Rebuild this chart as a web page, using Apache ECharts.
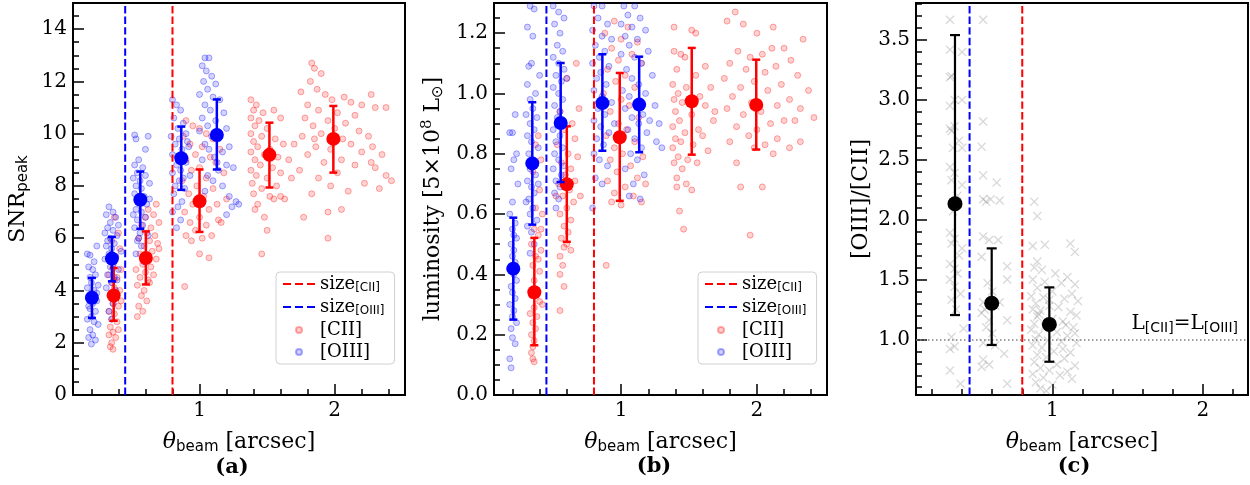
<!DOCTYPE html>
<html><head><meta charset="utf-8">
<script src="https://cdn.jsdelivr.net/npm/echarts@6/dist/echarts.min.js"></script>
<style>html,body{margin:0;padding:0;background:#fff}#c{width:1250px;height:485px}</style>
</head><body><div id="c"></div>
<script>
// ---------------- DATA ----------------
const sizeCII = 0.8, sizeOIII = 0.45, unityRatio = 1.0;
const xMajorTicks = [1, 2];
const xMinorTicks = [0.2,0.4,0.6,0.8,1.2,1.4,1.6,1.8,2.2,2.4];
const yMajorA = [0,2,4,6,8,10,12,14];
const yMajorB = [0,0.2,0.4,0.6,0.8,1.0,1.2];
const yMajorC = [1.0,1.5,2.0,2.5,3.0,3.5];

// panel (a): SNR_peak
const snrOIII = [
[0.17,5.4],[0.19,5.35],[0.24,5.7],[0.22,5.1],[0.18,4.9],[0.21,4.8],[0.23,4.6],[0.19,4.5],[0.2,4.3],[0.25,4.2],[0.17,4.1],[0.22,4.0],[0.2,3.9],[0.18,3.7],[0.24,3.6],[0.21,3.5],[0.19,3.3],[0.23,3.2],[0.2,3.0],[0.17,2.9],[0.22,2.8],[0.25,2.7],[0.19,2.5],[0.21,2.3],[0.18,2.2],[0.23,2.1],[0.2,1.95],[0.24,3.9],[0.18,3.4],
[0.33,7.2],[0.36,7.0],[0.31,6.9],[0.38,6.8],[0.34,6.6],[0.4,6.5],[0.32,6.4],[0.36,6.3],[0.3,6.2],[0.39,6.1],[0.34,6.0],[0.37,5.8],[0.31,5.7],[0.35,5.6],[0.42,5.5],[0.33,5.4],[0.38,5.3],[0.3,5.2],[0.36,5.0],[0.34,4.9],[0.4,4.8],[0.32,4.6],[0.37,4.5],[0.35,4.3],[0.31,4.1],[0.38,4.0],[0.34,3.8],[0.36,3.5],[0.33,3.2],[0.35,2.9],[0.32,5.9],[0.39,4.4],
[0.52,9.95],[0.62,9.9],[0.53,9.8],[0.6,9.4],[0.55,9.0],[0.52,8.8],[0.58,8.7],[0.54,8.5],[0.6,8.4],[0.51,8.3],[0.56,8.2],[0.63,8.1],[0.53,8.0],[0.57,7.9],[0.52,7.7],[0.59,7.6],[0.55,7.4],[0.61,7.3],[0.53,7.1],[0.57,7.0],[0.51,6.9],[0.6,6.8],[0.54,6.7],[0.58,6.5],[0.52,6.4],[0.56,6.2],[0.62,6.1],[0.54,5.9],[0.57,5.7],[0.53,5.4],[0.59,5.1],[0.55,6.0],[0.63,7.5],
[0.8,11.3],[0.83,11.1],[0.86,10.9],[0.81,10.6],[0.88,10.4],[0.84,10.2],[0.9,10.0],[0.79,9.9],[0.85,9.8],[0.82,9.6],[0.92,9.5],[0.87,9.4],[0.8,9.2],[0.84,9.1],[0.9,8.9],[0.83,8.8],[0.86,8.6],[0.8,8.5],[0.93,8.4],[0.85,8.2],[0.82,8.0],[0.89,7.9],[0.81,7.7],[0.87,7.4],[0.84,7.2],[0.8,7.0],[0.86,6.7],[0.83,6.4],[0.91,9.7],[0.88,8.3],
[1.04,12.9],[1.07,12.9],[1.02,12.6],[1.05,12.4],[1.09,12.2],[1.03,12.0],[1.12,11.9],[1.06,11.7],[1.0,11.5],[1.1,11.4],[1.15,11.3],[1.04,11.1],[1.08,10.9],[1.18,10.8],[1.02,10.6],[1.12,10.5],[1.06,10.3],[1.2,10.2],[1.0,10.1],[1.09,9.9],[1.14,9.8],[1.04,9.6],[1.22,9.5],[1.07,9.4],[1.17,9.3],[1.11,9.1],[1.02,9.0],[1.2,8.8],[1.14,8.6],[1.06,8.4],[1.25,8.7],[1.1,8.2],[1.17,8.0],[1.04,7.8],[1.22,7.6],[1.27,7.4],[1.24,7.2],[1.29,7.3],[1.2,6.9],[1.13,8.9]
];
const snrCII = [
[0.37,6.8],[0.4,6.2],[0.35,5.9],[0.41,5.6],[0.38,5.3],[0.36,5.0],[0.42,4.8],[0.33,4.6],[0.39,4.5],[0.35,4.3],[0.37,4.1],[0.41,4.0],[0.34,3.8],[0.38,3.7],[0.36,3.5],[0.4,3.4],[0.33,3.2],[0.37,3.1],[0.35,2.9],[0.39,2.8],[0.34,2.6],[0.36,2.4],[0.33,2.3],[0.38,2.2],[0.35,2.0],[0.34,1.85],[0.36,1.75],[0.42,3.6],[0.4,2.5],[0.37,4.4],
[0.68,7.3],[0.62,7.1],[0.66,6.9],[0.6,6.8],[0.7,6.6],[0.57,6.5],[0.64,6.4],[0.61,6.2],[0.67,6.1],[0.55,6.0],[0.63,5.9],[0.69,5.8],[0.59,5.7],[0.65,5.5],[0.56,5.4],[0.62,5.3],[0.68,5.2],[0.58,5.0],[0.64,4.9],[0.53,4.8],[0.6,4.7],[0.66,4.6],[0.56,4.5],[0.62,4.4],[0.54,4.2],[0.59,4.0],[0.57,3.8],[0.61,3.6],[0.55,3.4],[0.58,3.2],[0.54,3.0],[0.63,4.3],[0.7,5.6],
[0.9,10.5],[0.95,10.3],[1.0,10.2],[1.05,10.0],[0.88,9.9],[1.1,9.8],[0.93,9.6],[1.02,9.5],[1.15,9.4],[0.97,9.2],[1.08,9.1],[0.9,9.0],[1.12,8.9],[1.0,8.7],[0.94,8.6],[1.18,8.5],[1.05,8.3],[0.87,8.2],[0.98,8.0],[1.1,7.9],[0.92,7.7],[1.03,7.6],[1.2,7.5],[0.95,7.3],[1.07,7.1],[0.89,7.0],[1.0,6.8],[1.14,6.7],[0.93,6.6],[1.05,6.5],[0.97,6.3],[0.9,6.1],[1.09,6.1],[1.02,6.0],[0.94,5.9],[1.16,6.6],[1.0,5.4],[1.07,5.25],[0.89,4.15],[1.13,7.3],
[1.38,11.3],[1.42,11.1],[1.4,10.9],[1.47,10.8],[1.55,10.9],[1.38,10.6],[1.44,10.5],[1.6,10.6],[1.41,10.3],[1.5,10.2],[1.38,10.0],[1.46,9.9],[1.56,9.8],[1.4,9.7],[1.62,9.6],[1.43,9.5],[1.52,9.4],[1.38,9.3],[1.48,9.2],[1.58,9.1],[1.41,9.0],[1.66,9.0],[1.45,8.8],[1.54,8.7],[1.38,8.6],[1.6,8.5],[1.42,8.4],[1.5,8.3],[1.39,8.1],[1.57,8.0],[1.46,7.9],[1.4,7.7],[1.52,7.6],[1.63,7.5],[1.43,7.3],[1.55,7.5],[1.41,7.1],[1.48,6.8],[1.5,6.3],[1.46,5.4],[1.7,9.6],[1.68,8.3],[1.6,7.6],
[1.83,12.7],[1.85,12.5],[1.9,12.3],[1.82,12.0],[1.87,11.7],[1.75,11.6],[1.93,11.5],[2.07,11.4],[1.98,11.3],[2.12,11.2],[1.8,11.1],[2.2,11.1],[2.27,11.5],[1.88,10.9],[2.02,10.8],[2.15,10.7],[1.78,10.6],[1.95,10.5],[2.08,10.4],[2.3,11.0],[2.38,11.0],[1.84,10.3],[2.0,10.2],[2.18,10.1],[1.9,10.0],[2.25,9.9],[1.76,9.9],[2.06,9.8],[2.12,9.6],[1.86,9.5],[1.97,9.4],[2.28,9.5],[2.2,9.3],[1.8,9.2],[2.35,9.2],[2.05,9.0],[1.92,8.9],[2.15,8.8],[1.74,8.6],[2.42,8.2],[2.38,8.4],[2.3,8.7],[2.02,8.5],[1.88,8.3],[2.22,8.1],[1.97,8.0],[2.1,7.8],[2.33,7.9],[1.83,7.7],[1.95,7.0],[2.05,7.1],[1.77,6.8],[1.95,6.0],[2.27,8.9],[1.85,9.8]
];
// [x, mean, low, high]
const snrOIIIbars = [[0.204,3.72,2.95,4.48],[0.352,5.22,4.35,6.05],[0.562,7.47,6.36,8.55],[0.865,9.06,7.85,10.27],[1.128,9.95,8.63,11.31]];
const snrCIIbars  = [[0.365,3.81,2.84,4.86],[0.603,5.24,4.23,6.26],[1.0,7.41,6.24,8.63],[1.517,9.19,7.94,10.42],[1.99,9.80,8.51,11.06]];

// panel (b): luminosity
const lumOIII = [
[0.22,0.93],[0.2,0.87],[0.18,0.87],[0.23,0.8],[0.21,0.78],[0.19,0.75],[0.24,0.7],[0.2,0.64],[0.18,0.6],[0.22,0.57],[0.2,0.55],[0.23,0.52],[0.19,0.5],[0.21,0.48],[0.2,0.46],[0.22,0.44],[0.18,0.42],[0.21,0.4],[0.23,0.38],[0.19,0.36],[0.2,0.34],[0.22,0.32],[0.18,0.3],[0.21,0.28],[0.2,0.26],[0.23,0.24],[0.19,0.22],[0.2,0.19],[0.22,0.17],[0.18,0.12],[0.19,0.09],[0.21,0.53],[0.2,0.42],
[0.33,1.29],[0.36,1.28],[0.31,1.22],[0.35,1.19],[0.32,1.09],[0.34,1.1],[0.4,1.06],[0.31,1.03],[0.37,1.0],[0.33,0.98],[0.35,0.95],[0.3,0.93],[0.38,0.92],[0.33,0.9],[0.36,0.88],[0.31,0.86],[0.34,0.84],[0.39,0.82],[0.32,0.8],[0.35,0.78],[0.33,0.75],[0.37,0.73],[0.31,0.71],[0.34,0.69],[0.36,0.67],[0.32,0.65],[0.35,0.62],[0.33,0.6],[0.38,0.58],[0.31,0.56],[0.34,0.54],[0.36,0.5],[0.33,0.47],[0.3,0.64],[0.39,0.7],
[0.5,1.29],[0.54,1.27],[0.58,1.25],[0.51,1.23],[0.55,1.2],[0.53,1.16],[0.57,1.14],[0.5,1.12],[0.54,1.1],[0.58,1.08],[0.52,1.06],[0.56,1.04],[0.5,1.02],[0.54,1.0],[0.57,0.98],[0.51,0.96],[0.55,0.94],[0.53,0.92],[0.58,0.9],[0.5,0.88],[0.55,0.86],[0.52,0.84],[0.57,0.82],[0.51,0.8],[0.54,0.78],[0.5,0.75],[0.56,0.73],[0.52,0.71],[0.55,0.69],[0.51,0.67],[0.54,0.65],[0.52,0.62],[0.58,0.76],[0.6,1.05],
[0.8,1.29],[0.86,1.29],[0.83,1.25],[0.9,1.23],[0.79,1.21],[0.86,1.19],[0.93,1.18],[0.81,1.16],[0.88,1.14],[0.84,1.12],[0.79,1.1],[0.91,1.09],[0.85,1.07],[0.82,1.05],[0.89,1.03],[0.8,1.01],[0.86,0.99],[0.93,0.97],[0.83,0.95],[0.88,0.93],[0.8,0.91],[0.85,0.89],[0.91,0.87],[0.82,0.85],[0.87,0.83],[0.8,0.8],[0.84,0.78],[0.9,0.76],[0.81,0.72],[0.86,0.7],[0.79,0.62],[0.95,0.9],
[1.02,1.29],[1.1,1.29],[1.05,1.26],[1.14,1.25],[1.0,1.23],[1.08,1.22],[1.18,1.21],[1.03,1.19],[1.12,1.18],[1.06,1.16],[1.2,1.14],[1.0,1.13],[1.1,1.12],[1.15,1.1],[1.04,1.08],[1.23,1.06],[1.08,1.05],[1.13,1.03],[1.01,1.01],[1.18,1.0],[1.06,0.99],[1.11,0.97],[1.25,0.96],[1.03,0.95],[1.16,0.93],[1.08,0.92],[1.21,0.91],[1.13,0.9],[1.28,0.9],[1.05,0.88],[1.19,0.87],[1.1,0.85],[1.26,0.84],[1.15,0.82],[1.3,0.82],[1.07,0.8],[1.12,0.78],[1.03,0.75],[1.17,0.73],[1.09,0.7],[1.14,0.65],[1.06,0.66]
];
const lumCII = [
[0.39,0.86],[0.37,0.83],[0.41,0.78],[0.35,0.74],[0.4,0.68],[0.37,0.62],[0.42,0.6],[0.36,0.55],[0.39,0.53],[0.34,0.5],[0.41,0.48],[0.37,0.46],[0.35,0.43],[0.4,0.41],[0.36,0.38],[0.38,0.35],[0.34,0.33],[0.4,0.31],[0.36,0.29],[0.33,0.27],[0.38,0.26],[0.35,0.24],[0.37,0.22],[0.34,0.2],[0.36,0.18],[0.35,0.16],[0.34,0.14],[0.35,0.12],[0.36,0.11],[0.42,0.3],[0.39,0.45],[0.41,0.55],
[0.67,1.1],[0.6,1.05],[0.69,0.95],[0.55,0.94],[0.64,0.9],[0.58,0.88],[0.66,0.85],[0.53,0.83],[0.61,0.8],[0.68,0.79],[0.56,0.77],[0.63,0.75],[0.59,0.73],[0.66,0.71],[0.54,0.7],[0.62,0.68],[0.57,0.66],[0.65,0.64],[0.6,0.62],[0.55,0.6],[0.63,0.58],[0.58,0.56],[0.61,0.54],[0.56,0.52],[0.6,0.5],[0.58,0.49],[0.63,0.48],[0.55,0.46],[0.57,0.43],[0.55,0.4],[0.58,0.36],[0.55,0.28],[0.7,0.66],[0.52,0.66],
[0.95,1.24],[1.05,1.22],[0.88,1.2],[1.0,1.18],[1.12,1.17],[0.93,1.15],[1.08,1.13],[0.98,1.11],[1.15,1.1],[0.9,1.08],[1.03,1.06],[0.96,1.04],[1.1,1.02],[0.87,1.0],[1.0,0.98],[1.06,0.96],[0.92,0.94],[1.13,0.92],[0.98,0.9],[1.04,0.88],[0.89,0.86],[1.1,0.84],[0.95,0.82],[1.01,0.8],[1.16,0.79],[0.92,0.78],[1.07,0.76],[0.97,0.74],[1.12,0.72],[0.9,0.71],[1.03,0.69],[0.95,0.67],[1.09,0.66],[0.93,0.64],[1.0,0.63],[1.15,0.64],[0.89,0.43],[1.18,0.7],
[1.39,1.22],[1.52,1.21],[1.55,1.2],[1.39,1.14],[1.44,1.13],[1.47,1.12],[1.62,1.09],[1.41,1.08],[1.55,1.06],[1.38,1.03],[1.48,1.02],[1.66,1.02],[1.42,1.0],[1.58,0.99],[1.39,0.98],[1.45,0.97],[1.62,0.96],[1.4,0.94],[1.52,0.93],[1.69,0.94],[1.43,0.91],[1.38,0.89],[1.57,0.88],[1.47,0.87],[1.4,0.85],[1.6,0.86],[1.44,0.84],[1.53,0.83],[1.38,0.82],[1.64,0.81],[1.42,0.79],[1.49,0.78],[1.39,0.77],[1.56,0.77],[1.45,0.75],[1.41,0.72],[1.48,0.7],[1.41,0.69],[1.52,0.68],[1.43,0.61],[1.46,0.55],[1.68,0.91],
[1.84,1.27],[1.78,1.24],[1.9,1.23],[2.12,1.22],[2.0,1.2],[2.34,1.18],[2.11,1.15],[2.2,1.15],[1.86,1.14],[2.04,1.13],[1.95,1.12],[2.25,1.11],[1.8,1.1],[2.14,1.09],[1.92,1.08],[2.06,1.07],[2.3,1.06],[1.76,1.05],[1.98,1.04],[2.18,1.03],[1.88,1.02],[2.08,1.01],[2.38,1.01],[1.82,0.99],[2.24,0.98],[1.96,0.97],[2.15,0.96],[1.78,0.95],[2.32,0.95],[2.03,0.94],[1.9,0.93],[2.42,0.92],[2.2,0.91],[2.1,0.9],[1.85,0.89],[2.28,0.91],[2.0,0.88],[1.94,0.86],[2.15,0.85],[1.8,0.84],[2.06,0.83],[2.24,0.82],[2.32,0.84],[1.98,0.82],[2.12,0.8],[1.85,0.77],[1.88,0.69],[2.04,0.69],[1.95,0.53]
];
const lumOIIIbars = [[0.206,0.419,0.250,0.588],[0.346,0.768,0.565,0.971],[0.555,0.902,0.706,1.101],[0.862,0.968,0.810,1.130],[1.133,0.963,0.805,1.122]];
const lumCIIbars  = [[0.361,0.341,0.165,0.521],[0.6,0.699,0.508,0.891],[0.99,0.855,0.644,1.068],[1.52,0.974,0.797,1.151],[1.995,0.962,0.814,1.112]];

// panel (c): [OIII]/[CII]
const ratioPts = [
[0.32,3.67],[0.32,3.42],[0.4,3.4],[0.33,3.2],[0.32,3.19],[0.35,3.0],[0.4,3.0],[0.32,2.95],[0.32,2.76],[0.35,2.78],[0.33,2.74],[0.38,2.66],[0.34,2.6],[0.4,2.6],[0.32,2.44],[0.35,2.39],[0.33,2.33],[0.4,2.29],[0.37,2.2],[0.32,1.89],[0.35,1.84],[0.33,1.8],[0.4,1.76],[0.32,1.63],[0.35,1.59],[0.38,1.7],[0.32,1.5],[0.35,1.44],[0.33,1.33],[0.39,1.38],[0.41,1.09],[0.33,1.02],[0.32,0.92],[0.35,0.94],[0.32,0.74],[0.39,0.63],[0.36,1.25],[0.34,2.07],[0.37,1.55],
[0.54,3.67],[0.54,2.82],[0.53,2.61],[0.54,2.37],[0.63,2.31],[0.54,2.17],[0.59,2.17],[0.65,2.16],[0.56,2.15],[0.54,1.86],[0.58,1.83],[0.64,1.83],[0.53,1.69],[0.7,1.61],[0.57,1.47],[0.7,1.5],[0.6,1.4],[0.54,1.31],[0.65,1.31],[0.53,1.22],[0.58,1.16],[0.7,1.16],[0.55,1.25],[0.62,1.28],[0.54,0.97],[0.62,0.95],[0.68,0.88],[0.54,0.83],[0.58,0.79],[0.53,0.77],[0.7,0.63],[0.56,1.1],[0.6,1.05],
[0.88,2.15],[0.9,2.03],[0.87,1.78],[0.95,1.79],[1.12,1.8],[1.15,1.73],[0.9,1.65],[0.88,1.6],[0.93,1.58],[1.02,1.55],[1.1,1.52],[0.87,1.5],[0.95,1.48],[1.06,1.47],[1.15,1.46],[0.9,1.43],[1.0,1.4],[1.13,1.38],[0.86,1.36],[0.94,1.35],[1.08,1.34],[1.17,1.32],[0.89,1.3],[0.98,1.28],[1.04,1.27],[0.87,1.25],[0.92,1.24],[1.12,1.23],[1.16,1.2],[0.9,1.19],[1.0,1.17],[1.07,1.15],[0.88,1.13],[0.95,1.11],[1.14,1.1],[0.86,1.08],[1.03,1.06],[0.91,1.04],[1.1,1.03],[0.89,1.0],[0.97,0.99],[1.06,0.98],[1.16,0.97],[0.87,0.95],[0.93,0.93],[1.01,0.9],[1.12,0.89],[0.9,0.87],[0.96,0.85],[1.08,0.84],[0.88,0.81],[1.03,0.79],[1.15,0.78],[0.92,0.76],[0.98,0.74],[1.1,0.73],[0.87,0.71],[1.05,0.7],[0.94,0.68],[1.13,0.67],[0.89,0.64],[1.0,0.62],[0.92,0.59],[0.96,0.57],[1.07,0.92],[0.91,1.21],[0.98,1.33],[1.15,1.05],[1.09,1.12]
];
const ratioBars = [[0.353,2.133,1.203,3.542],[0.597,1.301,0.953,1.760],[0.98,1.125,0.813,1.434]];

// ---------------- CHART ----------------
const SERIF = 'DejaVu Serif', SANS = 'DejaVu Sans';
function steps(a, b, d) { const r = []; for (let v = a; v <= b + 1e-9; v += d) r.push(+v.toFixed(3)); return r; }

const panels = [
  { grid: {left: 73, top: 3, width: 332, height: 392}, x: [0.064, 2.52], y: [0, 15],
    yMajor: yMajorA, yMinor: steps(0, 15, 0.5), fmt: v => String(v),
    yName: '{m|SNR}{s|peak}', yGap: 42 },
  { grid: {left: 494, top: 3, width: 333, height: 392}, x: [0.064, 2.516], y: [0, 1.3],
    yMajor: yMajorB, yMinor: steps(0, 1.3, 0.05), fmt: v => v.toFixed(1),
    yName: '{m|luminosity [5×10}{sup|8}{m| L}{s|⊙}{m|]}', yGap: 47 },
  { grid: {left: 916, top: 3, width: 332, height: 392}, x: [0.094, 2.30], y: [0.535, 3.81],
    yMajor: yMajorC, yMinor: steps(0.6, 3.8, 0.1), fmt: v => v.toFixed(1),
    yName: '{m|[OIII]/[CII]}', yGap: 44 }
];

const nameRich = {
  m: {fontFamily: SERIF, fontSize: 22, color: '#000'},
  t: {fontFamily: SERIF, fontStyle: 'italic', fontSize: 22, color: '#000'},
  s: {fontFamily: SANS, fontSize: 15, color: '#000', padding: [10, 0, 0, 0]},
  sup: {fontFamily: SERIF, fontSize: 15, color: '#000', padding: [0, 0, 12, 0]}
};

const grid = [], xAxis = [], yAxis = [];
panels.forEach((p, i) => {
  grid.push(Object.assign({show: true, borderColor: '#000', borderWidth: 2, backgroundColor: 'transparent'}, p.grid));
  xAxis.push({type: 'value', gridIndex: i, min: p.x[0], max: p.x[1], position: 'bottom',
    axisLine: {show: false}, splitLine: {show: false},
    axisTick: {inside: true, length: 11, customValues: xMajorTicks, lineStyle: {color: '#000', width: 1.5}},
    axisLabel: {customValues: xMajorTicks, fontFamily: SERIF, fontSize: 20, color: '#000', margin: 6},
    name: '{t|θ}{s|beam}{m| [arcsec]}', nameLocation: 'middle', nameGap: 35,
    nameTextStyle: {rich: nameRich}});
  xAxis.push({type: 'value', gridIndex: i, min: p.x[0], max: p.x[1], position: 'bottom',
    axisLine: {show: false}, splitLine: {show: false}, axisLabel: {show: false},
    axisTick: {inside: true, length: 6, customValues: xMinorTicks, lineStyle: {color: '#000', width: 1.5}}});
  yAxis.push({type: 'value', gridIndex: i, min: p.y[0], max: p.y[1], position: 'left',
    axisLine: {show: false}, splitLine: {show: false},
    axisTick: {inside: true, length: 11, customValues: p.yMajor, lineStyle: {color: '#000', width: 1.5}},
    axisLabel: {customValues: p.yMajor, formatter: p.fmt, fontFamily: SERIF, fontSize: 20, color: '#000', margin: 6},
    name: p.yName, nameLocation: 'middle', nameGap: p.yGap, nameTextStyle: {rich: nameRich}});
  yAxis.push({type: 'value', gridIndex: i, min: p.y[0], max: p.y[1], position: 'left',
    axisLine: {show: false}, splitLine: {show: false}, axisLabel: {show: false},
    axisTick: {inside: true, length: 6, customValues: p.yMinor, lineStyle: {color: '#000', width: 1.5}}});
});

function errRender(color, r, cap, lw) {
  return function (params, api) {
    const x = api.value(0), y = api.value(1), lo = api.value(2), hi = api.value(3);
    const t = api.coord([x, hi]), b = api.coord([x, lo]), c = api.coord([x, y]);
    const st = {stroke: color, lineWidth: lw};
    return {type: 'group', children: [
      {type: 'line', shape: {x1: t[0], y1: t[1], x2: b[0], y2: b[1]}, style: st},
      {type: 'line', shape: {x1: t[0] - cap, y1: t[1], x2: t[0] + cap, y2: t[1]}, style: st},
      {type: 'line', shape: {x1: b[0] - cap, y1: b[1], x2: b[0] + cap, y2: b[1]}, style: st},
      {type: 'circle', shape: {cx: c[0], cy: c[1], r: r}, style: {fill: color}}
    ]};
  };
}
function scatter(name, data, i, rgb) {
  return {type: 'scatter', name, data, xAxisIndex: 2 * i, yAxisIndex: 2 * i, symbolSize: 6, z: 2,
    itemStyle: {color: `rgba(${rgb},0.22)`, borderColor: `rgba(${rgb},0.42)`, borderWidth: 1}};
}
function vline(name, xv, i, color) {
  const p = panels[i];
  return {type: 'line', name, xAxisIndex: 2 * i, yAxisIndex: 2 * i, symbol: 'none', z: 3, silent: true,
    data: [[xv, p.y[0]], [xv, p.y[1]]], lineStyle: {color, width: 2, type: [7.4, 3.2]}, itemStyle: {color}};
}
function bars(name, data, i, color, r, cap, lw) {
  return {type: 'custom', name, data, xAxisIndex: 2 * i, yAxisIndex: 2 * i, z: 5,
    encode: {x: 0, y: [1, 2, 3]}, renderItem: errRender(color, r, cap, lw)};
}

const XPATH = 'path://M1,0L5,4L9,0L10,1L6,5L10,9L9,10L5,6L1,10L0,9L4,5L0,1Z';
const series = [
  scatter('[CII]', snrCII, 0, '255,0,0'),
  scatter('[OIII]', snrOIII, 0, '0,0,255'),
  vline('size[CII]', sizeCII, 0, '#ff0000'),
  vline('size[OIII]', sizeOIII, 0, '#0000ff'),
  bars('errC_a', snrCIIbars, 0, '#ff0000', 7, 4, 2.5),
  bars('errO_a', snrOIIIbars, 0, '#0000ff', 7, 4, 2.5),

  scatter('[CII]', lumCII, 1, '255,0,0'),
  scatter('[OIII]', lumOIII, 1, '0,0,255'),
  vline('size[CII]', sizeCII, 1, '#ff0000'),
  vline('size[OIII]', sizeOIII, 1, '#0000ff'),
  bars('errC_b', lumCIIbars, 1, '#ff0000', 7, 4, 2.5),
  bars('errO_b', lumOIIIbars, 1, '#0000ff', 7, 4, 2.5),

  {type: 'scatter', name: 'ratio', data: ratioPts, xAxisIndex: 4, yAxisIndex: 4, symbol: XPATH, symbolSize: 9, z: 2,
    itemStyle: {color: 'rgba(80,80,80,0.28)'},
    markLine: {silent: true, symbol: 'none', data: [{yAxis: unityRatio}],
      lineStyle: {color: '#808080', width: 1.5, type: [1.5, 2.5]},
      label: {position: 'insideEndTop', distance: 4, padding: [0, 6, 0, 0],
        formatter: '{l|L}{s|[CII]}{l|=L}{s|[OIII]}',
        rich: {l: {fontFamily: SERIF, fontSize: 20, color: '#000'},
               s: {fontFamily: SANS, fontSize: 14, color: '#000', padding: [9, 0, 0, 0]}}}}},
  vline('c_CII', sizeCII, 2, '#ff0000'),
  vline('c_OIII', sizeOIII, 2, '#0000ff'),
  bars('err_c', ratioBars, 2, '#000000', 7.5, 5, 2.2)
];

const DASH_ICON = 'path://M0,0h8v2h-8z M12,0h8v2h-8z M24,0h8v2h-8z';
const legendRich = {
  m: {fontFamily: SERIF, fontSize: 18, color: '#000', lineHeight: 24},
  s: {fontFamily: SANS, fontSize: 12, color: '#000', padding: [8, 0, 0, 0]}
};
const legendNames = {'size[CII]': '{m|size}{s|[CII]}', 'size[OIII]': '{m|size}{s|[OIII]}', '[CII]': '{m|[CII]}', '[OIII]': '{m|[OIII]}'};
function mkLegend(left, top) {
  return {left, top, orient: 'vertical', selectedMode: false,
    data: [{name: 'size[CII]', icon: DASH_ICON, itemStyle: {color: '#ff0000'}},
           {name: 'size[OIII]', icon: DASH_ICON, itemStyle: {color: '#0000ff'}},
           {name: '[CII]', icon: 'circle'}, {name: '[OIII]', icon: 'circle'}],
    itemWidth: 32, itemHeight: 6, itemGap: 4, padding: [3, 10, 3, 7],
    borderColor: '#d0d0d0', borderWidth: 1, borderRadius: 4, backgroundColor: 'rgba(255,255,255,0.85)',
    formatter: n => legendNames[n], textStyle: {rich: legendRich}};
}

const chart = echarts.init(document.getElementById('c'), null, {renderer: 'canvas'});
chart.setOption({
  animation: false, backgroundColor: '#fff',
  grid, xAxis, yAxis, series,
  legend: [mkLegend(276, 272), mkLegend(698, 272)],
  graphic: [
    {type: 'text', x: 232, y: 468, style: {text: '(a)', font: 'bold 21px "DejaVu Serif"', fill: '#000', textAlign: 'center', textVerticalAlign: 'middle'}},
    {type: 'text', x: 654, y: 467, style: {text: '(b)', font: 'bold 21px "DejaVu Serif"', fill: '#000', textAlign: 'center', textVerticalAlign: 'middle'}},
    {type: 'text', x: 1074, y: 467, style: {text: '(c)', font: 'bold 21px "DejaVu Serif"', fill: '#000', textAlign: 'center', textVerticalAlign: 'middle'}}
  ]
});
</script></body></html>
